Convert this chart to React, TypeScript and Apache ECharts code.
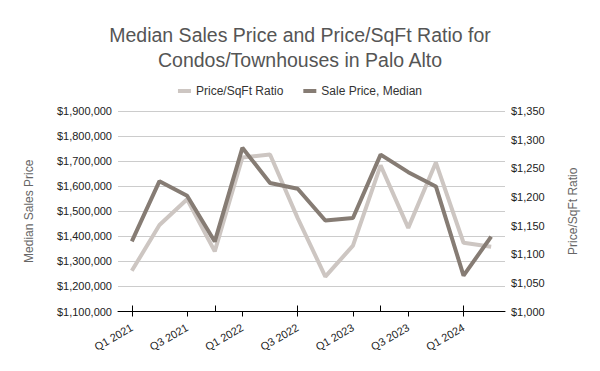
import React, { useEffect, useRef } from "react";
import * as echarts from "echarts";

const categories = [
  "Q1 2021", "Q2 2021", "Q3 2021", "Q4 2021",
  "Q1 2022", "Q2 2022", "Q3 2022", "Q4 2022",
  "Q1 2023", "Q2 2023", "Q3 2023", "Q4 2023",
  "Q1 2024", "Q2 2024",
];
const pricePerSqFt = [1071, 1151, 1196, 1105, 1269, 1274, 1163, 1061, 1115, 1255, 1146, 1260, 1120, 1113];
const medianSalePrice = [1380000, 1620000, 1562000, 1379000, 1753000, 1613000, 1590000, 1463000, 1473000, 1726000, 1656000, 1599000, 1243000, 1399000];

const FONT = "'Liberation Sans', Arial, sans-serif";

const fmtMoney = (v: number) => "$" + v.toLocaleString("en-US");

export default function App() {
  const ref = useRef<HTMLDivElement>(null);
  useEffect(() => {
    if (!ref.current) return;
    const chart = echarts.init(ref.current, null, { renderer: "svg" });
    chart.setOption({
      animation: false,
      backgroundColor: "#ffffff",
      textStyle: { fontFamily: FONT },
      title: {
        text: "Median Sales Price and Price/SqFt Ratio for\nCondos/Townhouses in Palo Alto",
        left: "center",
        top: 17,
        textStyle: {
          fontFamily: FONT,
          fontSize: 19.5,
          fontWeight: "normal",
          color: "#555555",
          lineHeight: 25,
        },
      },
      legend: {
        top: 80,
        left: "center",
        itemWidth: 13,
        itemHeight: 4,
        itemGap: 20,
        icon: "rect",
        textStyle: { fontFamily: FONT, fontSize: 12, color: "#333333" },
        data: ["Price/SqFt Ratio", "Sale Price, Median"],
      },
      grid: { left: 118, right: 95, top: 111, bottom: 59.5, containLabel: false },
      xAxis: [
        {
          type: "category",
          data: categories,
          position: "bottom",
          boundaryGap: true,
          axisLine: { show: true, lineStyle: { color: "#000000", width: 1 } },
          axisTick: { show: true, alignWithLabel: true, length: 5, lineStyle: { color: "#000000" } },
          axisLabel: {
            interval: 1,
            rotate: 30,
            fontFamily: FONT,
            fontSize: 11,
            color: "#222222",
            margin: 15,
          },
          splitLine: { show: false },
        },
        {
          type: "category",
          data: categories,
          position: "bottom",
          boundaryGap: true,
          axisLine: { show: false },
          axisTick: { show: true, inside: true, alignWithLabel: true, length: 6, lineStyle: { color: "#000000" } },
          axisLabel: { show: false },
          splitLine: { show: false },
        },
      ],
      yAxis: [
        {
          type: "value",
          min: 1100000,
          max: 1900000,
          interval: 100000,
          position: "left",
          name: "Median Sales Price",
          nameLocation: "middle",
          nameGap: 83,
          nameTextStyle: { fontFamily: FONT, fontSize: 12, color: "#666666" },
          axisLine: { show: false },
          axisTick: { show: false },
          axisLabel: {
            formatter: fmtMoney,
            fontFamily: FONT,
            fontSize: 11,
            color: "#222222",
            margin: 6,
          },
          splitLine: { show: true, lineStyle: { color: "#cccccc", width: 1 } },
        },
        {
          type: "value",
          min: 1000,
          max: 1350,
          interval: 50,
          position: "right",
          name: "Price/SqFt Ratio",
          nameLocation: "middle",
          nameGap: 62,
          nameTextStyle: { fontFamily: FONT, fontSize: 12, color: "#666666" },
          axisLine: { show: false },
          axisTick: { show: false },
          axisLabel: {
            formatter: fmtMoney,
            fontFamily: FONT,
            fontSize: 11,
            color: "#222222",
            margin: 6,
          },
          splitLine: { show: false },
        },
      ],
      series: [
        {
          name: "Price/SqFt Ratio",
          type: "line",
          yAxisIndex: 1,
          data: pricePerSqFt,
          symbol: "none",
          lineStyle: { color: "#cdc6c2", width: 4 },
          itemStyle: { color: "#cdc6c2" },
          z: 2,
        },
        {
          name: "Sale Price, Median",
          type: "line",
          yAxisIndex: 0,
          data: medianSalePrice,
          symbol: "none",
          lineStyle: { color: "#867c74", width: 4 },
          itemStyle: { color: "#867c74" },
          z: 3,
        },
      ],
    });
    return () => chart.dispose();
  }, []);
  return <div ref={ref} style={{ width: 600, height: 371, margin: -8 }} />;
}
